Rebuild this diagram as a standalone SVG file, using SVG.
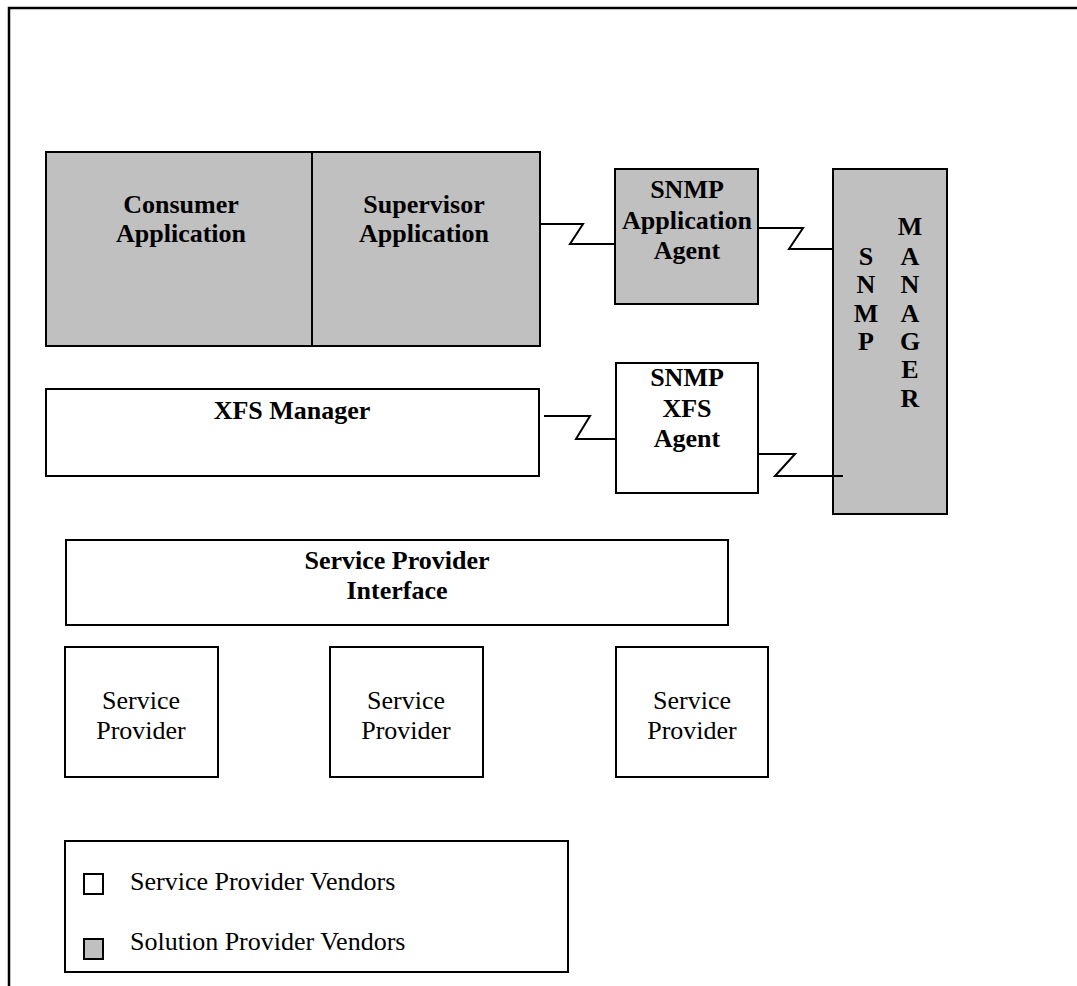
<svg xmlns="http://www.w3.org/2000/svg" width="1077" height="986" viewBox="0 0 1077 986">
<style>
.box{stroke:#000;stroke-width:2;}
.g{fill:#c0c0c0;}
.w{fill:#fff;}
.b{font-family:"Liberation Serif","Times New Roman",serif;font-weight:bold;font-size:26px;fill:#000;text-anchor:middle;}
.n{font-family:"Liberation Serif","Times New Roman",serif;font-size:26px;fill:#000;text-anchor:middle;}
.l{font-family:"Liberation Serif","Times New Roman",serif;font-size:26px;fill:#000;}
.c{fill:none;stroke:#000;stroke-width:2;}
</style>
<rect width="1077" height="986" fill="#fff"/>
<path d="M9,986 V8 H1077" fill="none" stroke="#000" stroke-width="2.5"/>
<g id="consumer-app">
<rect class="box g" x="46" y="152" width="266" height="194"/>
<text class="b" x="181" y="213">Consumer</text>
<text class="b" x="181" y="242">Application</text>
</g>
<g id="supervisor-app">
<rect class="box g" x="312" y="152" width="228" height="194"/>
<text class="b" x="424" y="213">Supervisor</text>
<text class="b" x="424" y="242">Application</text>
</g>
<g id="snmp-app-agent">
<rect class="box g" x="615" y="169" width="143" height="135"/>
<text class="b" x="687" y="198">SNMP</text>
<text class="b" x="687" y="229">Application</text>
<text class="b" x="687" y="259">Agent</text>
</g>
<g id="snmp-manager">
<rect class="box g" x="833" y="169" width="114" height="345"/>
<text class="b" x="866" y="265">S</text>
<text class="b" x="866" y="293">N</text>
<text class="b" x="866" y="322">M</text>
<text class="b" x="866" y="350">P</text>
<text class="b" x="910" y="235">M</text>
<text class="b" x="910" y="265">A</text>
<text class="b" x="910" y="293">N</text>
<text class="b" x="910" y="322">A</text>
<text class="b" x="910" y="350">G</text>
<text class="b" x="910" y="378">E</text>
<text class="b" x="910" y="407">R</text>
</g>
<g id="xfs-manager">
<rect class="box w" x="46" y="389" width="493" height="87"/>
<text class="b" x="292" y="419">XFS Manager</text>
</g>
<g id="snmp-xfs-agent">
<rect class="box w" x="616" y="363" width="142" height="130"/>
<text class="b" x="687" y="386">SNMP</text>
<text class="b" x="687" y="417">XFS</text>
<text class="b" x="687" y="447">Agent</text>
</g>
<g id="spi">
<rect class="box w" x="66" y="540" width="662" height="85"/>
<text class="b" x="397" y="569">Service Provider</text>
<text class="b" x="397" y="599">Interface</text>
</g>
<g id="sp1">
<rect class="box w" x="65" y="647" width="153" height="130"/>
<text class="n" x="141" y="709">Service</text>
<text class="n" x="141" y="739">Provider</text>
</g>
<g id="sp2">
<rect class="box w" x="330" y="647" width="153" height="130"/>
<text class="n" x="406" y="709">Service</text>
<text class="n" x="406" y="739">Provider</text>
</g>
<g id="sp3">
<rect class="box w" x="616" y="647" width="152" height="130"/>
<text class="n" x="692" y="709">Service</text>
<text class="n" x="692" y="739">Provider</text>
</g>
<g id="legend">
<rect class="box w" x="65" y="841" width="503" height="131"/>
<rect class="box w" x="84" y="874" width="19" height="20"/>
<text class="l" x="130" y="890">Service Provider Vendors</text>
<rect class="box g" x="84" y="939" width="19" height="20"/>
<text class="l" x="130" y="950">Solution Provider Vendors</text>
</g>
<g id="connectors">
<path class="c" d="M540,224 H583 L570,244 H615"/>
<path class="c" d="M758,228 H803 L789,249 H833"/>
<path class="c" d="M544,416 H590 L576,439 H616"/>
<path class="c" d="M758,454 H795 L775,476 H843"/>
</g>
</svg>
